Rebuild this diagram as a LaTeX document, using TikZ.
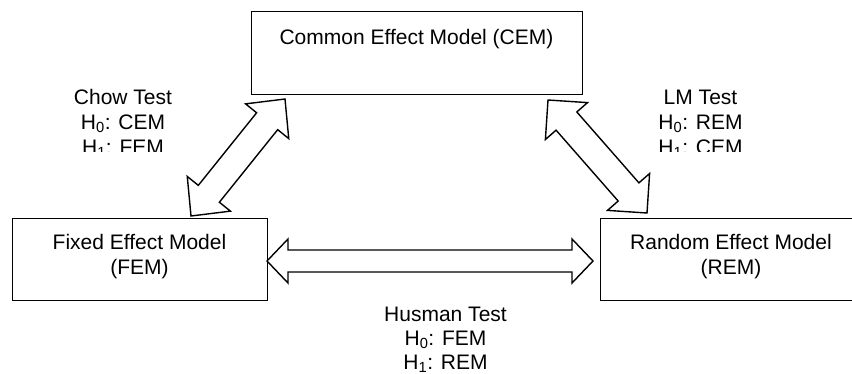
\documentclass[tikz,border=0pt]{standalone}
\usepackage{fontspec}
\setmainfont{Liberation Sans}
\usetikzlibrary{calc}

% centred lines of text whose baseline is the first line
\newcommand\textlines[1]{\begin{tabular}[t]{@{}c@{}}#1\end{tabular}}

% white block arrow with a head at both ends, between two named points
% #1,#2 tips, #3 head length, #4 head half-width, #5 shaft half-width
\newcommand\blockarrow[5]{%
  \draw[blockarrowstyle] (#1)
    -- ($($(#1)!#3!(#2)$)!#4!90:(#2)$)
    -- ($($(#1)!#3!(#2)$)!#5!90:(#2)$)
    -- ($($(#2)!#3!(#1)$)!#5!-90:(#1)$)
    -- ($($(#2)!#3!(#1)$)!#4!-90:(#1)$)
    -- (#2)
    -- ($($(#2)!#3!(#1)$)!#4!90:(#1)$)
    -- ($($(#2)!#3!(#1)$)!#5!90:(#1)$)
    -- ($($(#1)!#3!(#2)$)!#5!-90:(#2)$)
    -- ($($(#1)!#3!(#2)$)!#4!-90:(#2)$)
    -- cycle;}

\tikzset{
  modelbox/.style={draw, line width=1.4pt, fill=white, inner sep=0pt, anchor=north west},
  txt/.style={inner sep=0pt, anchor=base, font=\fontsize{21}{25}\selectfont},
  blockarrowstyle/.style={draw, fill=white, line width=1.4pt, line join=miter},
}

\begin{document}
\begin{tikzpicture}[x=1pt, y=-1pt]
  \useasboundingbox (0,0) rectangle (852,373);
  \clip (0,0) rectangle (852,373);

  % the three models
  \node[modelbox, minimum width=331pt, minimum height=83pt] (cem) at (251,11) {};
  \node[modelbox, minimum width=255pt, minimum height=82.5pt] (fem) at (12,217.5) {};
  \node[modelbox, minimum width=262pt, minimum height=82.5pt] (rem) at (600,217.5) {};

  \node[txt] (cemtext) at (416.5,44) {Common Effect Model (CEM)};
  \node[txt] (femtext) at (139.5,249) {\textlines{Fixed Effect Model\\(FEM)}};
  \node[txt] (remtext) at (731,249) {\textlines{Random Effect Model\\(REM)}};

  % tips of the block arrows
  \coordinate (chowlow) at (191,216);
  \coordinate (chowhigh) at (285,99);
  \coordinate (lmhigh) at (548,100);
  \coordinate (lmlow) at (647,213);
  \coordinate (hausleft) at (267,261);
  \coordinate (hausright) at (593,261);

  \blockarrow{chowlow}{chowhigh}{28.5pt}{27.7pt}{13.5pt}
  \blockarrow{lmhigh}{lmlow}{28pt}{28pt}{13.8pt}
  \blockarrow{hausleft}{hausright}{21pt}{22pt}{11pt}

  % test labels; the upper two are cut off below their second hypothesis line
  \begin{scope}
    \clip (0,0) rectangle (852,151);
    \node[txt] (chow) at (123,104) {\textlines{Chow Test\\H\textsubscript{0}: CEM\\H\textsubscript{1}: FEM}};
    \node[txt] (lm) at (700.5,104) {\textlines{LM Test\\H\textsubscript{0}: REM\\H\textsubscript{1}: CEM}};
  \end{scope}
  \node[txt, font=\fontsize{21}{24}\selectfont] (husman) at (445.5,321)
    {\textlines{Husman Test\\H\textsubscript{0}: FEM\\H\textsubscript{1}: REM}};
\end{tikzpicture}
\end{document}
